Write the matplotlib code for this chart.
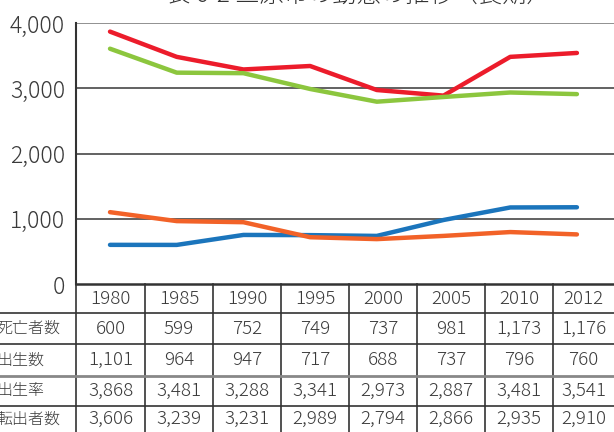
import matplotlib
matplotlib.use("Agg")
import matplotlib.pyplot as plt
from matplotlib.lines import Line2D

plt.rcParams['font.family'] = ['Noto Sans CJK JP', 'DejaVu Sans']
plt.rcParams['font.weight'] = 'light'

title = "表 6-2 三原市の動態の推移（長期）"
years = ["1980", "1985", "1990", "1995", "2000", "2005", "2010", "2012"]
row_labels = ["死亡者数", "出生数", "出生率", "転出者数"]
deaths = [600, 599, 752, 749, 737, 981, 1173, 1176]
births = [1101, 964, 947, 717, 688, 737, 796, 760]
birth_rate = [3868, 3481, 3288, 3341, 2973, 2887, 3481, 3541]
moved_out = [3606, 3239, 3231, 2989, 2794, 2866, 2935, 2910]
series = [deaths, births, birth_rate, moved_out]
colors = ["#1b75bc", "#f26228", "#ec1c2b", "#8cc63e"]
yticks = [0, 1000, 2000, 3000, 4000]

W, H = 614, 432
fig = plt.figure(figsize=(W / 100, H / 100), dpi=100)

def fx(px):
    return px / W

def fy(py):
    return 1 - py / H

ax_left, ax_right, ax_top, ax_bottom = 76, 614, 23, 284
ax = fig.add_axes([fx(ax_left), fy(ax_bottom), fx(ax_right) - fx(ax_left), fy(ax_top) - fy(ax_bottom)])
xs = list(range(len(years)))
ax.set_xlim(-0.51, 7.556)
ax.set_ylim(0, 4000)
for yv in yticks[1:]:
    ax.axhline(yv, color="#555555" if yv != 4000 else "#888888", lw=1.3, zorder=1)
for vals, c in zip(series, colors):
    ax.plot(xs, vals, color=c, lw=3.2, solid_capstyle='round', zorder=3)
ax.set_yticks(yticks)
ax.set_yticklabels([f"{v:,}" for v in yticks], fontsize=16.5, color="#3a3a3a", fontweight='light')
ax.tick_params(axis='y', length=0, pad=8)
ax.set_xticks([])
for s in ["top", "right"]:
    ax.spines[s].set_visible(False)
ax.spines["left"].set_color("#333333")
ax.spines["left"].set_linewidth(1.5)
ax.spines["bottom"].set_color("#333333")
ax.spines["bottom"].set_linewidth(1.8)

# title (partially cut off at top, as in the reference)
fig.text(fx(358), fy(9), title, ha='center', va='bottom', fontsize=17.5, color="#333333", fontweight='light')

# table
col_edges = [76, 145, 213, 281, 349, 417, 485, 553, 614]
row_edges = [284, 313, 344, 376, 406, 432]
tcolor = "#333333"
for xe in col_edges[:-1]:
    fig.add_artist(Line2D([fx(xe), fx(xe)], [fy(284), fy(432)], color=tcolor, lw=1.2))
for ye in row_edges[1:-1]:
    if ye == 376:
        fig.add_artist(Line2D([fx(0), fx(614)], [fy(ye), fy(ye)], color="#888888", lw=2.0))
    else:
        fig.add_artist(Line2D([fx(0), fx(614)], [fy(ye), fy(ye)], color=tcolor, lw=1.2))

for j, yr in enumerate(years):
    cx = (col_edges[j] + col_edges[j + 1]) / 2
    cy = (row_edges[0] + row_edges[1]) / 2
    fig.text(fx(cx), fy(cy), yr, ha='center', va='center', fontsize=13.5, color="#3a3a3a", fontweight='light')
for i, (lab, vals) in enumerate(zip(row_labels, series)):
    cy = (row_edges[i + 1] + row_edges[i + 2]) / 2
    fig.text(fx(-4), fy(cy), lab, ha='left', va='center', fontsize=11.5, color="#3a3a3a", fontweight='light')
    for j, v in enumerate(vals):
        cx = (col_edges[j] + col_edges[j + 1]) / 2
        fig.text(fx(cx), fy(cy), f"{v:,}", ha='center', va='center', fontsize=13.5, color="#3a3a3a", fontweight='light')

fig.savefig("out.png", dpi=100)
